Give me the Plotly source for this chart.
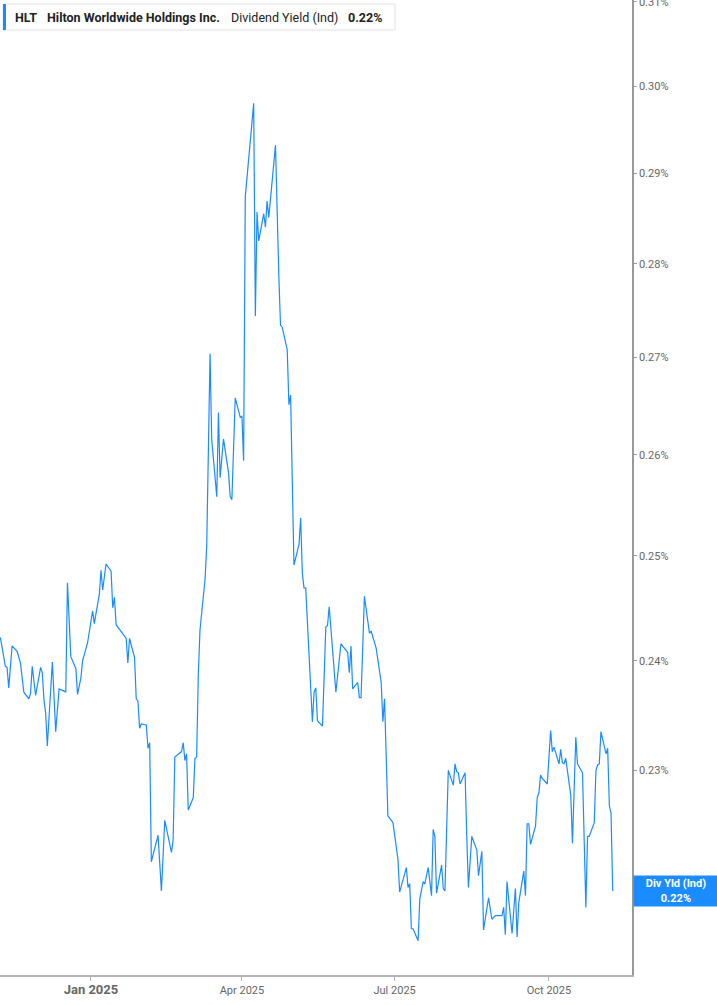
import math
import plotly.graph_objects as go

# HLT dividend yield (indicated), %
dates = [
    "2024-11-08", "2024-11-11", "2024-11-12", "2024-11-13", "2024-11-15", "2024-11-18", "2024-11-20",
    "2024-11-22", "2024-11-25", "2024-11-26", "2024-11-27", "2024-11-29", "2024-12-02", "2024-12-03",
    "2024-12-04", "2024-12-05", "2024-12-06", "2024-12-09", "2024-12-11", "2024-12-13", "2024-12-16",
    "2024-12-17", "2024-12-18", "2024-12-20", "2024-12-23", "2024-12-24", "2024-12-26", "2024-12-27",
    "2024-12-30", "2025-01-02", "2025-01-03", "2025-01-06", "2025-01-07", "2025-01-08", "2025-01-10",
    "2025-01-13", "2025-01-14", "2025-01-15", "2025-01-16", "2025-01-17", "2025-01-21", "2025-01-22",
    "2025-01-23", "2025-01-24", "2025-01-27", "2025-01-28", "2025-01-29", "2025-01-30", "2025-01-31",
    "2025-02-03", "2025-02-04", "2025-02-05", "2025-02-06", "2025-02-10", "2025-02-12", "2025-02-14",
    "2025-02-18", "2025-02-19", "2025-02-20", "2025-02-24", "2025-02-25", "2025-02-26", "2025-02-27",
    "2025-02-28", "2025-03-03", "2025-03-04", "2025-03-05", "2025-03-06", "2025-03-07", "2025-03-10",
    "2025-03-11", "2025-03-13", "2025-03-14", "2025-03-17", "2025-03-18", "2025-03-19", "2025-03-21",
    "2025-03-24", "2025-03-25", "2025-03-26", "2025-03-28", "2025-03-31", "2025-04-01", "2025-04-02",
    "2025-04-03", "2025-04-08", "2025-04-09", "2025-04-10", "2025-04-11", "2025-04-14", "2025-04-15",
    "2025-04-16", "2025-04-17", "2025-04-21", "2025-04-23", "2025-04-24", "2025-04-25", "2025-04-28",
    "2025-04-29", "2025-04-30", "2025-05-02", "2025-05-05", "2025-05-06", "2025-05-07", "2025-05-08",
    "2025-05-09", "2025-05-13", "2025-05-14", "2025-05-15", "2025-05-16", "2025-05-19", "2025-05-21",
    "2025-05-22", "2025-05-23", "2025-05-27", "2025-05-30", "2025-06-03", "2025-06-04", "2025-06-05",
    "2025-06-06", "2025-06-09", "2025-06-10", "2025-06-11", "2025-06-13", "2025-06-16", "2025-06-17",
    "2025-06-20", "2025-06-23", "2025-06-24", "2025-06-25", "2025-06-27", "2025-06-30", "2025-07-03",
    "2025-07-04", "2025-07-08", "2025-07-09", "2025-07-10", "2025-07-11", "2025-07-12", "2025-07-15",
    "2025-07-16", "2025-07-18", "2025-07-19", "2025-07-21", "2025-07-23", "2025-07-24", "2025-07-25",
    "2025-07-26", "2025-07-29", "2025-07-30", "2025-07-31", "2025-08-02", "2025-08-05", "2025-08-06",
    "2025-08-07", "2025-08-08", "2025-08-09", "2025-08-12", "2025-08-13", "2025-08-14", "2025-08-16",
    "2025-08-19", "2025-08-20", "2025-08-22", "2025-08-23", "2025-08-26", "2025-08-28", "2025-08-30",
    "2025-09-03", "2025-09-04", "2025-09-05", "2025-09-06", "2025-09-09", "2025-09-11", "2025-09-12",
    "2025-09-13", "2025-09-16", "2025-09-17", "2025-09-18", "2025-09-19", "2025-09-20", "2025-09-23",
    "2025-09-24", "2025-09-25", "2025-09-26", "2025-09-27", "2025-09-30", "2025-10-02", "2025-10-03",
    "2025-10-04", "2025-10-07", "2025-10-08", "2025-10-09", "2025-10-10", "2025-10-11", "2025-10-14",
    "2025-10-15", "2025-10-17", "2025-10-18", "2025-10-21", "2025-10-23", "2025-10-24", "2025-10-25",
    "2025-10-28", "2025-10-29", "2025-10-30", "2025-10-31", "2025-11-01", "2025-11-04", "2025-11-05",
    "2025-11-06", "2025-11-07", "2025-11-08",
]

div_yield = [
    0.2422, 0.2395, 0.2394, 0.2375, 0.2414, 0.2409, 0.2398,
    0.2371, 0.2365, 0.2370, 0.2395, 0.2368, 0.2394, 0.2389,
    0.2364, 0.2352, 0.2322, 0.2399, 0.2335, 0.2374, 0.2372,
    0.2371, 0.2474, 0.2404, 0.2393, 0.2369, 0.2384, 0.2400,
    0.2417, 0.2447, 0.2435, 0.2463, 0.2486, 0.2467, 0.2492,
    0.2485, 0.2450, 0.2460, 0.2434, 0.2432, 0.2423, 0.2421,
    0.2398, 0.2421, 0.2403, 0.2365, 0.2363, 0.2338, 0.2342,
    0.2341, 0.2320, 0.2325, 0.2220, 0.2243, 0.2195, 0.2256,
    0.2228, 0.2239, 0.2312, 0.2317, 0.2325, 0.2309, 0.2315,
    0.2265, 0.2276, 0.2311, 0.2312, 0.2388, 0.2429, 0.2477,
    0.2509, 0.2704, 0.2615, 0.2558, 0.2643, 0.2577, 0.2616,
    0.2582, 0.2558, 0.2555, 0.2658, 0.2638, 0.2639, 0.2594,
    0.2874, 0.2980, 0.2744, 0.2857, 0.2825, 0.2855, 0.2840,
    0.2869, 0.2851, 0.2932, 0.2786, 0.2734, 0.2732, 0.2708,
    0.2651, 0.2661, 0.2491, 0.2511, 0.2537, 0.2483, 0.2469,
    0.2469, 0.2344, 0.2371, 0.2375, 0.2345, 0.2340, 0.2432,
    0.2433, 0.2451, 0.2371, 0.2416, 0.2408, 0.2389, 0.2414,
    0.2374, 0.2380, 0.2366, 0.2366, 0.2461, 0.2426, 0.2428,
    0.2412, 0.2380, 0.2344, 0.2365, 0.2260, 0.2254, 0.2222,
    0.2194, 0.2215, 0.2198, 0.2201, 0.2163, 0.2163, 0.2153,
    0.2188, 0.2203, 0.2201, 0.2215, 0.2191, 0.2248, 0.2242,
    0.2193, 0.2217, 0.2197, 0.2195, 0.2300, 0.2287, 0.2306,
    0.2299, 0.2298, 0.2288, 0.2298, 0.2242, 0.2198, 0.2242,
    0.2230, 0.2208, 0.2229, 0.2162, 0.2189, 0.2171, 0.2174,
    0.2174, 0.2181, 0.2158, 0.2203, 0.2159, 0.2197, 0.2156,
    0.2185, 0.2212, 0.2191, 0.2253, 0.2253, 0.2235, 0.2251,
    0.2276, 0.2280, 0.2296, 0.2293, 0.2288, 0.2336, 0.2317,
    0.2321, 0.2306, 0.2319, 0.2307, 0.2306, 0.2311, 0.2278,
    0.2236, 0.2330, 0.2306, 0.2298, 0.2181, 0.2242, 0.2242,
    0.2254, 0.2300, 0.2305, 0.2306, 0.2335, 0.2315, 0.2320,
    0.2269, 0.2262, 0.2195,
]

y_ticks = [0.23, 0.24, 0.25, 0.26, 0.27, 0.28, 0.29, 0.30, 0.31]
y_tick_text = ["0.23%", "0.24%", "0.25%", "0.26%", "0.27%", "0.28%", "0.29%", "0.30%", "0.31%"]
x_ticks = ["2025-01-01", "2025-04-01", "2025-07-01", "2025-10-01"]
x_tick_text = ['<b><span style="font-size:13px">Jan 2025</span></b>', "Apr 2025", "Jul 2025", "Oct 2025"]

BLUE = "#1a8cff"
W, H = 717, 1005
PW, PH = 632, 975  # plot area size in px


def px(x):
    return x / PW


def py(y):
    return 1 - y / PH


fig = go.Figure()

fig.add_trace(
    go.Scatter(
        x=dates,
        y=div_yield,
        mode="lines",
        line=dict(color=BLUE, width=1.2),
        showlegend=False,
        hoverinfo="skip",
    )
)

# header box (legend)
fig.add_shape(type="rect", xref="paper", yref="paper",
              x0=px(3), x1=px(395), y0=py(30), y1=py(4),
              line=dict(color="#e2e2e2", width=1), fillcolor="white", layer="above")
fig.add_shape(type="rect", xref="paper", yref="paper",
              x0=px(3), x1=px(6), y0=py(30), y1=py(4),
              line=dict(width=0), fillcolor=BLUE, layer="above")

header = [
    (13, "<b>HLT</b>"),
    (45, "<b>Hilton Worldwide Holdings Inc.</b>"),
    (229, "Dividend Yield (Ind)"),
    (346, "<b>0.22%</b>"),
]
for hx, txt in header:
    fig.add_annotation(
        xref="paper", yref="paper", x=px(hx), y=py(17),
        text=txt, showarrow=False, xanchor="left", yanchor="middle",
        font=dict(family="Roboto", size=12.5, color="#222222"),
    )

# last value badge
fig.add_annotation(
    xref="paper", yref="y", x=1, y=math.log10(div_yield[-1]),
    text="<b>Div Yld (Ind)</b><br><b>0.22%</b>",
    showarrow=False, xanchor="left", yanchor="middle", xshift=1,
    width=80, height=26, borderpad=2, bgcolor=BLUE,
    font=dict(family="Roboto", size=11, color="white"),
)

fig.update_layout(
    width=W, height=H,
    margin=dict(l=0, r=W - PW, t=0, b=H - PH, autoexpand=False),
    paper_bgcolor="white",
    plot_bgcolor="white",
    font=dict(family="Roboto", size=11, color="#666666"),
    xaxis=dict(
        range=["2024-11-07 19:00", "2025-11-19 12:00"],
        tickvals=x_ticks, ticktext=x_tick_text,
        showgrid=False, zeroline=False,
        showline=True, linecolor="#b3b3b3", linewidth=1.5,
        ticks="outside", ticklen=4, tickcolor="#b3b3b3",
        tickfont=dict(family="Roboto", size=11, color="#666666"),
    ),
    yaxis=dict(
        type="log", side="right",
        range=[math.log10(0.21245), math.log10(0.3102)],
        tickvals=y_ticks, ticktext=y_tick_text,
        ticklabeloverflow="allow",
        showgrid=False, zeroline=False,
        showline=True, linecolor="#999999", linewidth=1.5,
        ticks="outside", ticklen=3, tickcolor="#999999",
        tickfont=dict(family="Roboto", size=11, color="#666666"),
    ),
)

# the page body has an 8px default margin; drop it so the chart sits at the corner
fig.write_html(
    "out.html",
    config={"displayModeBar": False},
    post_script="document.body.style.margin='0';",
)
